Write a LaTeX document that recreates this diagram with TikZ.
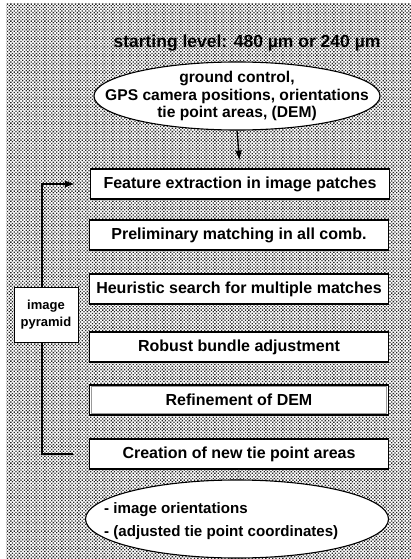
\documentclass[tikz,border=0pt]{standalone}
\usepackage{fontspec}
\setmainfont{Liberation Sans}
\usetikzlibrary{shapes.geometric,arrows.meta,patterns}
\pgfdeclarepatternformonly{scandots}{\pgfqpoint{-0.1pt}{-0.1pt}}{\pgfqpoint{3.5pt}{3.5pt}}{\pgfqpoint{3.4pt}{3.4pt}}{%
  \pgfpathrectangle{\pgfqpoint{0pt}{0pt}}{\pgfqpoint{1.3pt}{1.3pt}}%
  \pgfpathrectangle{\pgfqpoint{1.7pt}{1.7pt}}{\pgfqpoint{1.3pt}{1.3pt}}%
  \pgfusepath{fill}}
\tikzset{
  stepbox/.style={draw=black, line width=1.1pt, fill=white, minimum width=299pt, minimum height=30pt, inner sep=0pt, font=\fontsize{16}{18}\selectfont\bfseries},
  oval/.style={ellipse, draw=black, line width=1.1pt, fill=white, inner sep=0pt},
  flow/.style={line width=1.3pt, draw=black}
}
\begin{document}
\begin{tikzpicture}[x=1pt,y=-1pt]
\useasboundingbox (0,0) rectangle (411,559);
\fill[white] (0,0) rectangle (411,559);
\fill[pattern=scandots, pattern color=black!85] (6,4) rectangle (411,559);
\node[font=\fontsize{17.5}{19}\selectfont\bfseries] (title) at (247,43) {starting level: 480 µm or 240 µm};
\node[oval, minimum width=286pt, minimum height=68pt] (input) at (237,96) {};
\node[align=center, inner sep=0pt, font=\fontsize{15.6}{17.5}\selectfont\bfseries] (inputtext) at (input.center) {ground control,\\GPS camera positions, orientations\\tie point areas, (DEM)};
\node[stepbox] (b1) at (240,184) {Feature extraction in image patches};
\node[stepbox] (b2) at (239,235) {Preliminary matching in all comb.};
\node[stepbox] (b3) at (239,289) {Heuristic search for multiple matches};
\node[stepbox] (b4) at (239,347) {Robust bundle adjustment};
\node[stepbox] (b5) at (239,400) {Refinement of DEM};
\draw[black!40, line width=1pt] ([xshift=2.2pt,yshift=-2.2pt]b5.north west) rectangle ([xshift=-2.2pt,yshift=2.2pt]b5.south east);
\node[stepbox] (b6) at (239,454) {Creation of new tie point areas};
\node[oval, minimum width=303pt, minimum height=78pt] (output) at (237,519) {};
\node[anchor=west, align=left, inner sep=0pt, font=\fontsize{15.1}{23}\selectfont\bfseries] (outputtext) at (104,521) {- image orientations\\- (adjusted tie point coordinates)};
\coordinate (fb) at (42,300);
\draw[flow, -{Latex[length=10pt,width=7pt]}, shorten >=8pt] (input.south) -- (b1.north);
\draw[black!60, densely dotted, line width=0.8pt] (b6.south) -- (output.north);
\draw[flow, -{Latex[length=10pt,width=7pt]}, shorten <=16pt, shorten >=15pt] (b6.west) -- (b6.west -| fb) -- (b1.west -| fb) -- (b1.west);
\node[draw=black, line width=1pt, fill=white, minimum width=64pt, minimum height=55pt, align=center, font=\fontsize{13}{17}\selectfont\bfseries] (pyr) at (46,315) {image\\pyramid};
\end{tikzpicture}
\end{document}
